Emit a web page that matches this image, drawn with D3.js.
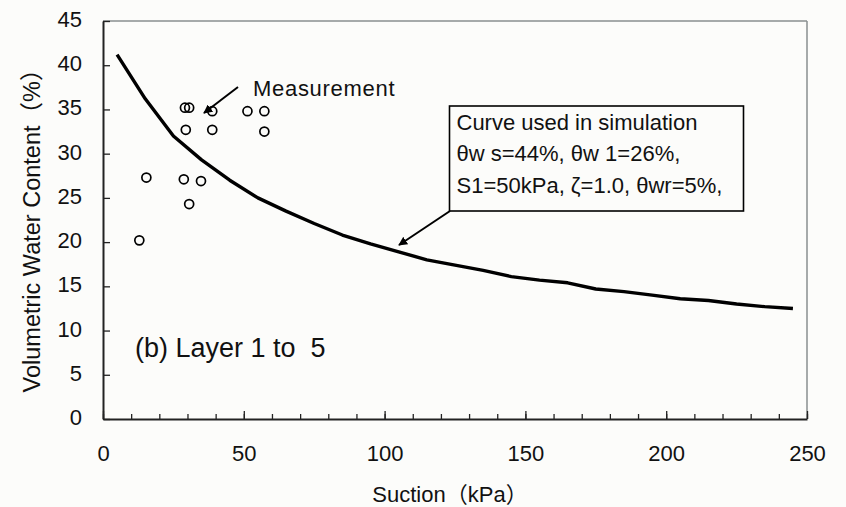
<!DOCTYPE html>
<html>
<head>
<meta charset="utf-8">
<script src="https://cdn.jsdelivr.net/npm/d3@7/dist/d3.min.js"></script>
<style>
  html, body { margin: 0; padding: 0; background: #fcfcfa; }
  svg { display: block; }
  text { font-family: "Liberation Sans", Arial, "Noto Sans CJK SC", sans-serif; fill: #111; }
</style>
</head>
<body>
<svg id="chart" width="846" height="507"></svg>
<script>
// Suction (kPa) at which the simulation curve is evaluated
const curveSuction = [5, 15, 25, 35, 45, 55, 65, 75, 85, 95, 105, 115, 125,
  135, 145, 155, 165, 175, 185, 195, 205, 215, 225, 235, 245];
// Volumetric water content (%) of the simulation curve
const curveTheta = [41.2, 36.2, 32.0, 29.3, 27.0, 25.0, 23.5, 22.1, 20.8, 19.8,
  18.9, 18.0, 17.4, 16.8, 16.1, 15.7, 15.4, 14.7, 14.4, 14.0, 13.6, 13.4, 13.0, 12.7, 12.5];

// Field measurements
const measSuction = [29.1, 30.6, 38.8, 51.3, 57.3, 29.4, 38.8, 57.3, 15.4, 28.7, 34.8, 30.6, 12.9];
const measTheta   = [35.2, 35.2, 34.8, 34.8, 34.8, 32.7, 32.7, 32.5, 27.3, 27.1, 26.9, 24.3, 20.2];

const xTicks = [0, 50, 100, 150, 200, 250];
const xMinorTicks = d3.range(0, 251, 10);
const yTicks = [0, 5, 10, 15, 20, 25, 30, 35, 40, 45];

const boxLines = [
  "Curve used in simulation",
  "θw s=44%, θw 1=26%,",
  "S1=50kPa, ζ=1.0, θwr=5%,"
];

const svg = d3.select("#chart");
const x = d3.scaleLinear().domain([0, 250]).range([103, 807]);
const y = d3.scaleLinear().domain([0, 45]).range([419, 21]);

// frame: grey top and right edges
svg.append("line").attr("x1", x(0)).attr("x2", x(250)).attr("y1", y(45)).attr("y2", y(45))
  .attr("stroke", "#8a8f8f").attr("stroke-width", 1.5);
svg.append("line").attr("x1", x(250)).attr("x2", x(250)).attr("y1", y(45)).attr("y2", y(0))
  .attr("stroke", "#8a8f8f").attr("stroke-width", 1.5);

// x axis: minor and major ticks pointing inward
const xMinor = svg.append("g").attr("transform", `translate(0,${y(0)})`)
  .call(d3.axisBottom(x).tickValues(xMinorTicks).tickSize(-5).tickSizeOuter(0).tickFormat(""));
xMinor.select(".domain").remove();
xMinor.selectAll("line").attr("stroke", "#222").attr("stroke-width", 1.3);

const xAxis = svg.append("g").attr("transform", `translate(0,${y(0)})`)
  .call(d3.axisBottom(x).tickValues(xTicks).tickSize(-8).tickSizeOuter(0).tickPadding(26));
xAxis.select(".domain").attr("stroke", "#222").attr("stroke-width", 2);
xAxis.selectAll("line").attr("stroke", "#222").attr("stroke-width", 1.3);
xAxis.selectAll("text").attr("font-size", 22).attr("fill", "#111")
  .attr("font-family", "Liberation Sans, Arial, sans-serif");

// y axis
const yAxis = svg.append("g").attr("transform", `translate(${x(0)},0)`)
  .call(d3.axisLeft(y).tickValues(yTicks).tickSize(-7).tickSizeOuter(0).tickPadding(21));
yAxis.select(".domain").attr("stroke", "#222").attr("stroke-width", 2);
yAxis.selectAll("line").attr("stroke", "#222").attr("stroke-width", 1.3);
yAxis.selectAll("text").attr("font-size", 22).attr("dy", "0.25em").attr("fill", "#111")
  .attr("font-family", "Liberation Sans, Arial, sans-serif");

// axis titles
svg.append("text").attr("x", 450).attr("y", 502)
  .attr("text-anchor", "middle").attr("font-size", 22).text("Suction（kPa）");
svg.append("text").attr("transform", "translate(40,225) rotate(-90)")
  .attr("text-anchor", "middle").attr("font-size", 23.5).text("Volumetric Water Content（%）");

// simulation curve
const curve = curveSuction.map((s, i) => [s, curveTheta[i]]);
svg.append("path").datum(curve)
  .attr("fill", "none").attr("stroke", "#000").attr("stroke-width", 3.4)
  .attr("stroke-linejoin", "round")
  .attr("d", d3.line().x(d => x(d[0])).y(d => y(d[1])));

// measurements
const meas = measSuction.map((s, i) => [s, measTheta[i]]);
svg.append("g").selectAll("circle").data(meas).join("circle")
  .attr("cx", d => x(d[0])).attr("cy", d => y(d[1])).attr("r", 4.5)
  .attr("fill", "none").attr("stroke", "#000").attr("stroke-width", 1.7);

// arrowhead
svg.append("defs").append("marker").attr("id", "arrow")
  .attr("viewBox", "0 0 10 10").attr("refX", 9).attr("refY", 5)
  .attr("markerWidth", 9).attr("markerHeight", 9).attr("markerUnits", "userSpaceOnUse")
  .attr("orient", "auto")
  .append("path").attr("d", "M0,0 L10,5 L0,10 Z").attr("fill", "#000");

// "Measurement" label and arrow
svg.append("line").attr("x1", 238).attr("y1", 87).attr("x2", 204).attr("y2", 113)
  .attr("stroke", "#000").attr("stroke-width", 2).attr("marker-end", "url(#arrow)");
svg.append("text").attr("x", 253).attr("y", 95.5).attr("font-size", 22)
  .attr("letter-spacing", 0.7).text("Measurement");

// simulation parameter box and arrow
svg.append("rect").attr("x", 449.5).attr("y", 106).attr("width", 294).attr("height", 105)
  .attr("fill", "#fcfcfa").attr("stroke", "#000").attr("stroke-width", 1.6);
svg.append("line").attr("x1", 450).attr("y1", 211).attr("x2", 399).attr("y2", 245)
  .attr("stroke", "#000").attr("stroke-width", 2).attr("marker-end", "url(#arrow)");
svg.append("g").selectAll("text").data(boxLines).join("text")
  .attr("x", 456.5).attr("y", (d, i) => 129.5 + i * 31.5)
  .attr("font-size", 22).style("white-space", "pre").text(d => d);

// panel label
svg.append("text").attr("x", 135).attr("y", 357).attr("font-size", 27)
  .style("white-space", "pre").text("(b) Layer 1 to  5");
</script>
</body>
</html>
